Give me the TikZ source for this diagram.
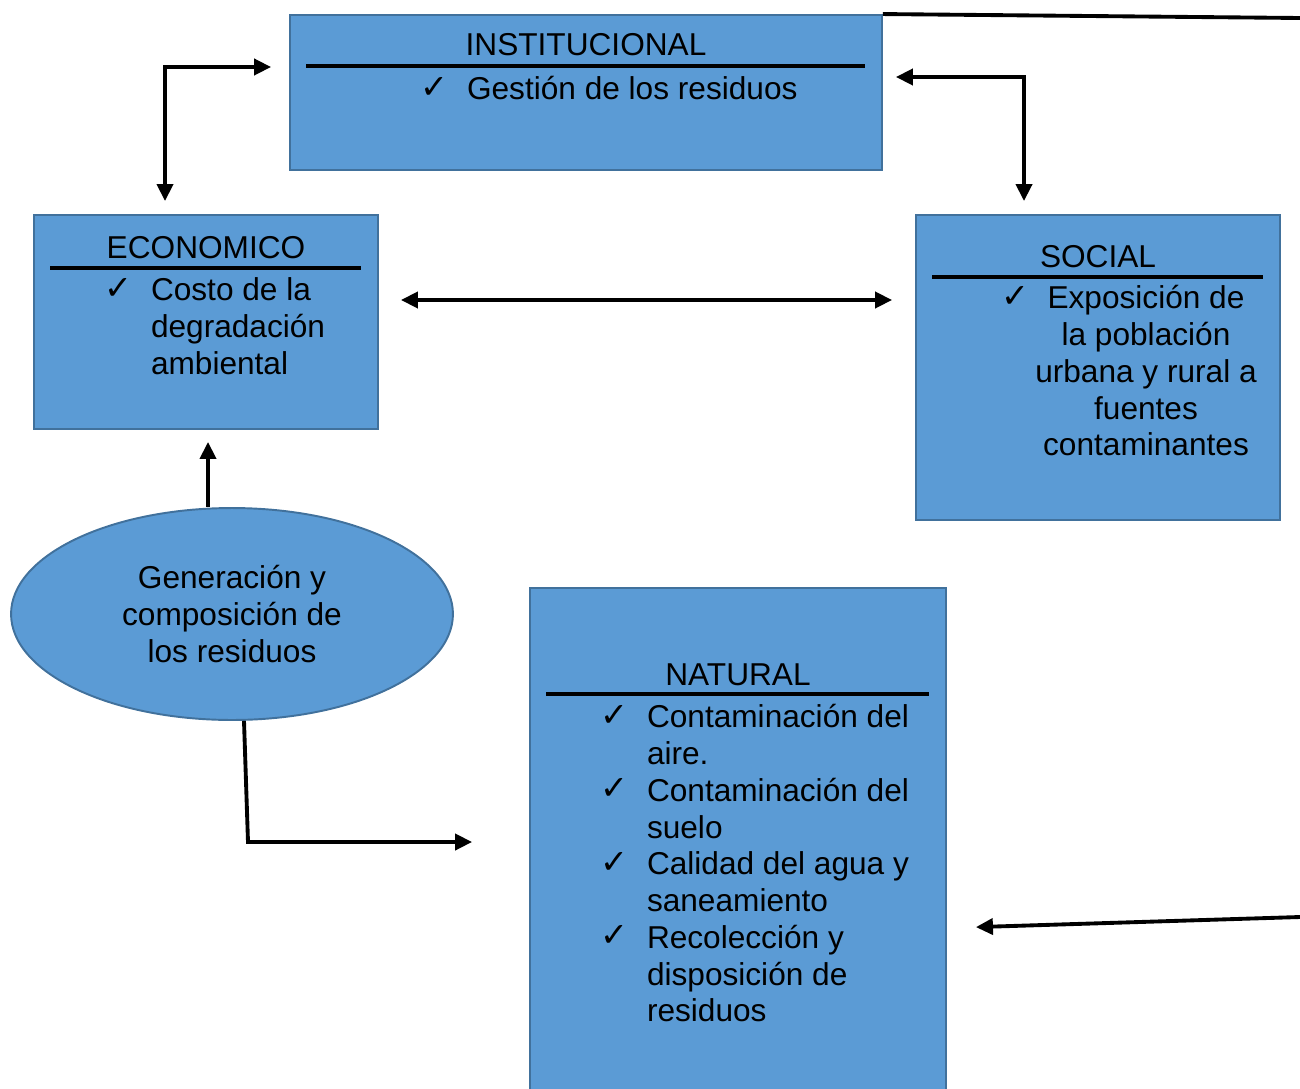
\documentclass[tikz,border=0pt]{standalone}
\usepackage{fontspec}
\setmainfont{Liberation Sans}
\newfontfamily\symfont{DejaVu Sans}
\usetikzlibrary{arrows.meta,shapes.geometric,calc}
\definecolor{boxfill}{HTML}{5B9BD5}
\definecolor{boxline}{HTML}{41719C}
\newcommand\firststrut{\rule{0pt}{15pt}}
\begin{document}
\begin{tikzpicture}[x=0.02cm,y=-0.02cm,
  font=\fontsize{18pt}{20.9pt}\selectfont,
  box/.style={draw=boxline,fill=boxfill,line width=1.1pt,inner sep=0pt},
  lbl/.style={inner sep=0pt,outer sep=0pt,anchor=base},
  blk/.style={inner sep=0pt,outer sep=0pt,anchor=north west,align=left},
  tick/.style={inner sep=0pt,outer sep=0pt,anchor=base west,font=\symfont\fontsize{19pt}{20pt}\selectfont},
  hrule/.style={line width=2pt},
  conn/.style={line width=2.2pt},
  tipA/.style={-{Triangle[length=0.34cm,width=0.32cm]}},
  tipB/.style={{Triangle[length=0.34cm,width=0.32cm]}-{Triangle[length=0.34cm,width=0.32cm]}}
]
\useasboundingbox (0,0) rectangle (1300,1088);

% boxes
\node[box,minimum width=11.84cm,minimum height=3.1cm] (inst) at (586,92.5) {};
\node[box,minimum width=6.88cm,minimum height=4.28cm] (eco) at (206,322) {};
\node[box,minimum width=7.28cm,minimum height=6.1cm] (soc) at (1098,367.5) {};
\node[box,minimum width=8.32cm,minimum height=10.24cm] (nat) at (738,844) {};
\node[box,ellipse,minimum width=8.84cm,minimum height=4.24cm,align=center] (gen) at (232,614)
  {Generación y\\composición de\\los residuos};

% INSTITUCIONAL
\node[lbl] (instT) at (586,56) {INSTITUCIONAL};
\draw[hrule] (306,66) -- (865,66);
\node[tick] (instK) at (420,98) {✓};
\node[lbl,anchor=base west] (instI) at (467,99) {Gestión de los residuos};

% ECONOMICO
\node[lbl] (ecoT) at (206,258) {ECONOMICO};
\draw[hrule] (50,268) -- (361,268);
\node[tick] (ecoK) at (104,299) {✓};
\node[blk] (ecoI) at (151,274.6) {\firststrut Costo de la\\degradación\\ambiental};

% SOCIAL
\node[lbl] (socT) at (1098,267) {SOCIAL};
\draw[hrule] (932,277) -- (1263,277);
\node[tick] (socK) at (1001,307) {✓};
\node[blk,anchor=north,align=center] (socI) at (1146,282.6)
  {\firststrut Exposición de\\la población\\urbana y rural a\\fuentes\\contaminantes};

% NATURAL
\node[lbl] (natT) at (738,685) {NATURAL};
\draw[hrule] (546,694) -- (929,694);
\node[tick] (natK1) at (600,726) {✓};
\node[tick] (natK2) at (600,799.5) {✓};
\node[tick] (natK3) at (600,873) {✓};
\node[tick] (natK4) at (600,946.5) {✓};
\node[blk] (natI) at (647,701.6)
  {\firststrut Contaminación del\\aire.\\Contaminación del\\suelo\\Calidad del agua y\\saneamiento\\Recolección y\\disposición de\\residuos};

% connectors
\coordinate (tend) at (1300,18);
\draw[conn] (inst.north east) -- (tend);

\coordinate (elbL) at (165,67);
\draw[conn,tipB,shorten <=0.36cm,shorten >=0.26cm] (inst.west |- elbL) -- (elbL) -- (elbL |- eco.north);

\coordinate (elbR) at (1024,77);
\draw[conn,tipB,shorten <=0.26cm,shorten >=0.26cm] (inst.east |- elbR) -- (elbR) -- (elbR |- soc.north);

\coordinate (hy) at (640,300);
\draw[conn,tipB,shorten <=0.44cm,shorten >=0.46cm] (eco.east |- hy) -- (soc.west |- hy);

\draw[conn,tipA,shorten >=0.24cm] ([xshift=-0.48cm]gen.north) -- ([xshift=-0.48cm]gen.north |- eco.south);

\coordinate (elbN) at (248,842);
\draw[conn,tipA,shorten >=1.14cm] ([xshift=0.24cm]gen.south) -- (elbN) -- (nat.west |- elbN);

\coordinate (rstart) at (1300,917);
\coordinate (ry) at (0,928);
\draw[conn,tipA,shorten >=0.58cm] (rstart) -- (nat.east |- ry);
\end{tikzpicture}
\end{document}
